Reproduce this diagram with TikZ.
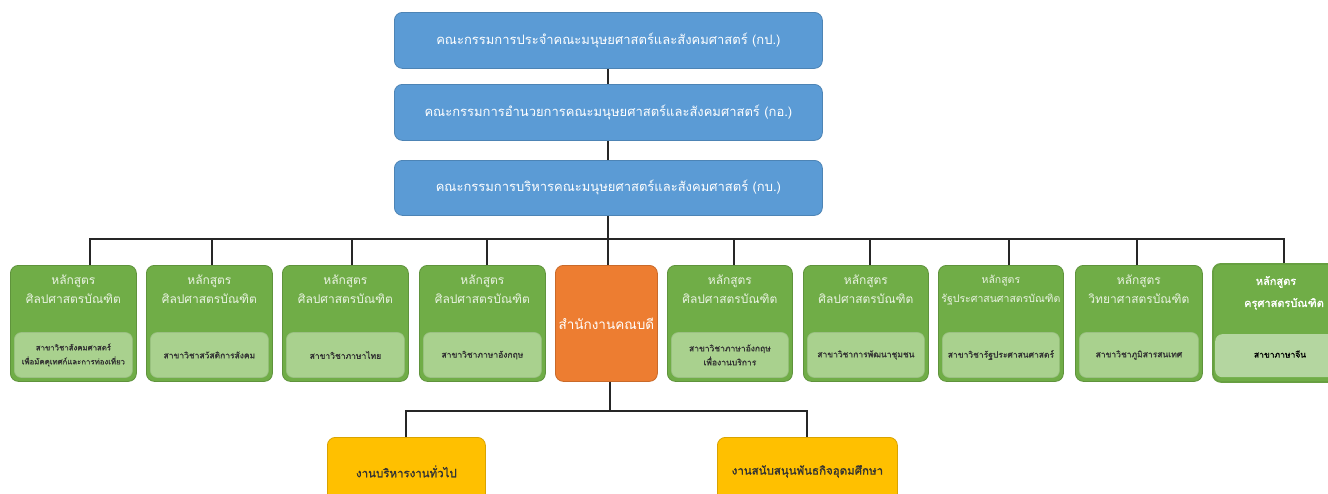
\documentclass[tikz,border=0pt]{standalone}
\usepackage{fontspec}
\newfontfamily\thai[Script=Thai]{Loma}
\newfontfamily\thaib[Script=Thai, FakeBold=1.3]{Loma}
\definecolor{blu}{HTML}{5B9BD5}
\definecolor{grn}{HTML}{70AD47}
\definecolor{lgrn}{HTML}{A9D18E}
\definecolor{llgrn}{HTML}{B4D6A0}
\definecolor{org}{HTML}{ED7D31}
\definecolor{yel}{HTML}{FFC000}
\definecolor{ink}{HTML}{262626}
\definecolor{dtxt}{HTML}{333333}
\tikzset{
  boxbase/.style={rounded corners=8pt, anchor=north west, inner sep=0pt, line width=0.8pt},
  bluebox/.style={boxbase, fill=blu, draw=blu!85!black, text=white, font=\thai\fontsize{13}{15}\selectfont},
  greenbox/.style={boxbase, fill=grn, draw=grn!85!black, minimum height=116},
  innerbox/.style={rounded corners=7pt, inner sep=0pt, anchor=south, fill=lgrn, draw=lgrn!92!black, line width=0.6pt, minimum height=45, align=center, text=dtxt, font=\thaib\fontsize{8.5}{14}\selectfont},
  headtxt/.style={anchor=north, align=center, inner sep=0pt, text=white!85!grn, font=\thai\fontsize{12}{19}\selectfont},
  orangebox/.style={boxbase, fill=org, draw=org!85!black, text=white, font=\thai\fontsize{13.5}{15}\selectfont},
  yellowbox/.style={boxbase, fill=yel, draw=yel!85!black, text=dtxt, font=\thaib\fontsize{11.5}{13}\selectfont},
  conn/.style={draw=ink, line width=2pt}
}
\begin{document}
\begin{tikzpicture}[x=1pt,y=-1pt]
\useasboundingbox (0,0) rectangle (1328,493);
\clip (0,0) rectangle (1328,493);
\fill[white] (0,0) rectangle (1328,493);

% top committee boxes
\node[bluebox, minimum width=428, minimum height=56] (k1) at (394,12) {คณะกรรมการประจำคณะมนุษยศาสตร์และสังคมศาสตร์ (กป.)};
\node[bluebox, minimum width=428, minimum height=56] (k2) at (394,84) {คณะกรรมการอำนวยการคณะมนุษยศาสตร์และสังคมศาสตร์ (กอ.)};
\node[bluebox, minimum width=428, minimum height=55] (k3) at (394,160) {คณะกรรมการบริหารคณะมนุษยศาสตร์และสังคมศาสตร์ (กบ.)};

% program boxes
\node[greenbox, minimum width=126] (p1) at (10,265) {};
\node[greenbox, minimum width=126] (p2) at (146,265) {};
\node[greenbox, minimum width=126] (p3) at (282,265) {};
\node[greenbox, minimum width=126] (p4) at (419,265) {};
\node[orangebox, minimum width=102, minimum height=116] (off) at (555,265) {สำนักงานคณบดี};
\node[greenbox, minimum width=125] (p6) at (667,265) {};
\node[greenbox, minimum width=125] (p7) at (803,265) {};
\node[greenbox, minimum width=125] (p8) at (938,265) {};
\node[greenbox, minimum width=127] (p9) at (1075,265) {};
\node[boxbase, fill=grn, draw=grn!92!black, line width=1.8pt, minimum width=142, minimum height=118] (p10) at (1212,263) {};

% headers
\node[headtxt] (h1) at ([yshift=-10pt]p1.north) {หลักสูตร\\ศิลปศาสตรบัณฑิต};
\node[headtxt] (h2) at ([yshift=-10pt]p2.north) {หลักสูตร\\ศิลปศาสตรบัณฑิต};
\node[headtxt] (h3) at ([yshift=-10pt]p3.north) {หลักสูตร\\ศิลปศาสตรบัณฑิต};
\node[headtxt] (h4) at ([yshift=-10pt]p4.north) {หลักสูตร\\ศิลปศาสตรบัณฑิต};
\node[headtxt] (h6) at ([yshift=-10pt]p6.north) {หลักสูตร\\ศิลปศาสตรบัณฑิต};
\node[headtxt] (h7) at ([yshift=-10pt]p7.north) {หลักสูตร\\ศิลปศาสตรบัณฑิต};
\node[headtxt, font=\thai\fontsize{10.5}{19}\selectfont] (h8) at ([yshift=-10pt]p8.north) {หลักสูตร\\รัฐประศาสนศาสตรบัณฑิต};
\node[headtxt] (h9) at ([yshift=-10pt]p9.north) {หลักสูตร\\วิทยาศาสตรบัณฑิต};
\node[anchor=center, inner sep=0pt, text=white, font=\thaib\fontsize{11}{13}\selectfont] (h10a) at (1276,282) {หลักสูตร};
\node[anchor=center, inner sep=0pt, text=white, font=\thaib\fontsize{11}{13}\selectfont] (h10b) at (1284,304) {ครุศาสตรบัณฑิต};

% inner boxes
\node[innerbox, minimum width=118, font=\thaib\fontsize{7.8}{14}\selectfont] (i1) at ([yshift=4pt]p1.south) {สาขาวิชาสังคมศาสตร์\\เพื่อมัคคุเทศก์และการท่องเที่ยว};
\node[innerbox, minimum width=118] (i2) at ([yshift=4pt]p2.south) {สาขาวิชาสวัสดิการสังคม};
\node[innerbox, minimum width=118] (i3) at ([yshift=4pt]p3.south) {สาขาวิชาภาษาไทย};
\node[innerbox, minimum width=118] (i4) at ([yshift=4pt]p4.south) {สาขาวิชาภาษาอังกฤษ};
\node[innerbox, minimum width=117] (i6) at ([yshift=4pt]p6.south) {สาขาวิชาภาษาอังกฤษ\\เพื่องานบริการ};
\node[innerbox, minimum width=117] (i7) at ([yshift=4pt]p7.south) {สาขาวิชาการพัฒนาชุมชน};
\node[innerbox, minimum width=117] (i8) at ([yshift=4pt]p8.south) {สาขาวิชารัฐประศาสนศาสตร์};
\node[innerbox, minimum width=119] (i9) at ([yshift=4pt]p9.south) {สาขาวิชาภูมิสารสนเทศ};
\node[rounded corners=7pt, inner sep=0pt, anchor=north west, fill=llgrn, minimum width=130, minimum height=43] (i10) at (1215,334) {};
\node[inner sep=0pt, text=black, font=\thaib\fontsize{8.5}{12}\selectfont] (t10) at (1280,354) {สาขาภาษาจีน};

% office units
\node[yellowbox, minimum width=158, minimum height=68] (y1) at (327,437) {งานบริหารงานทั่วไป};
\node[yellowbox, minimum width=180, minimum height=68] (y2) at (717,437) {งานสนับสนุนพันธกิจอุดมศึกษา};

% connectors
\coordinate (bus) at (0,239);
\coordinate (bus2) at (0,411);
\coordinate (c1) at ([xshift=17pt]p1.north);
\coordinate (c2) at ([xshift=3pt]p2.north);
\coordinate (c3) at ([xshift=7pt]p3.north);
\coordinate (c4) at ([xshift=5pt]p4.north);
\coordinate (c5) at ([xshift=2pt]off.north);
\coordinate (c6) at ([xshift=4pt]p6.north);
\coordinate (c7) at ([xshift=4pt]p7.north);
\coordinate (c8) at ([xshift=8pt]p8.north);
\coordinate (c9) at ([xshift=-2pt]p9.north);
\coordinate (c10) at (p10.north);
\coordinate (o1) at ([xshift=4pt]off.south);

\draw[conn] (k1) -- (k2);
\draw[conn] (k2) -- (k3);
\draw[conn] (k3.south) -- (k3.south |- bus);
\draw[conn] (c1) -- (c1 |- bus) -- (c10 |- bus) -- (c10);
\foreach \c in {c2,c3,c4,c5,c6,c7,c8,c9} {\draw[conn] (\c) -- (\c |- bus);}
\draw[conn] (o1) -- (o1 |- bus2);
\draw[conn] (y1.north) -- (y1.north |- bus2) -- (y2.north |- bus2) -- (y2.north);
\end{tikzpicture}
\end{document}
